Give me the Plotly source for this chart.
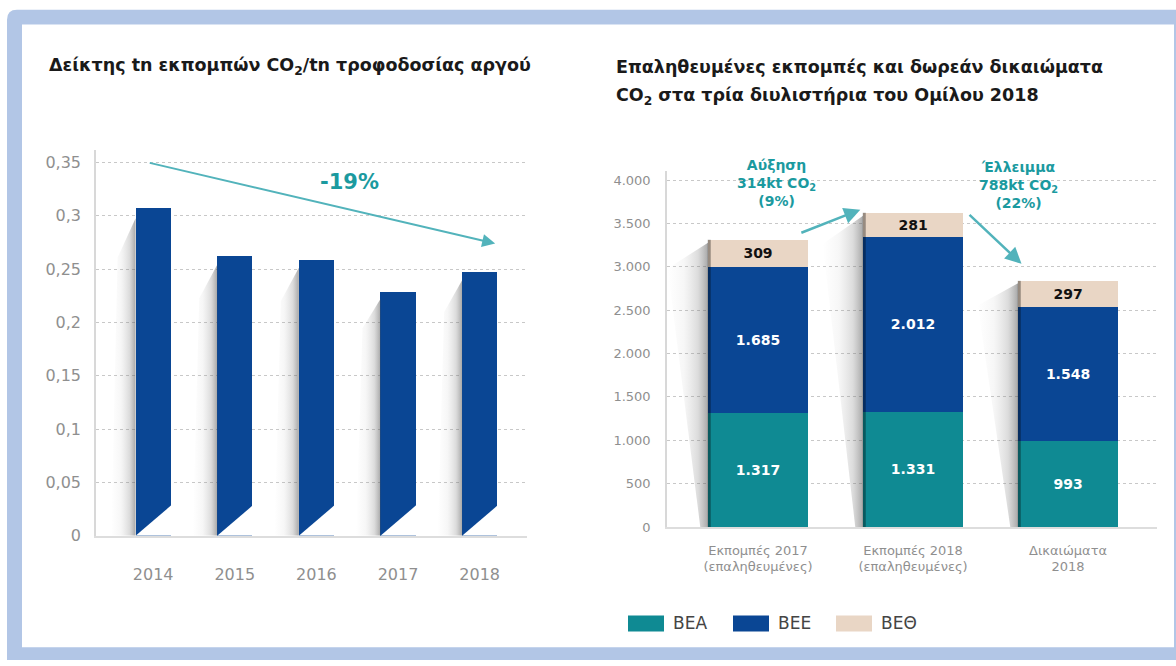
import plotly.graph_objects as go

# ---------------- data ----------------
years = ["2014", "2015", "2016", "2017", "2018"]
index_values = [0.307, 0.262, 0.259, 0.229, 0.247]
left_tickvals = [0, 0.05, 0.1, 0.15, 0.2, 0.25, 0.3, 0.35]
left_ticktext = ["0", "0,05", "0,1", "0,15", "0,2", "0,25", "0,3", "0,35"]

groups = ["Εκπομπές 2017<br>(επαληθευμένες)", "Εκπομπές 2018<br>(επαληθευμένες)", "Δικαιώματα<br>2018"]
bea = [1317, 1331, 993]
bee = [1685, 2012, 1548]
beth = [309, 281, 297]
series_names = ["ΒΕΑ", "ΒΕΕ", "ΒΕΘ"]
right_tickvals = [0, 500, 1000, 1500, 2000, 2500, 3000, 3500, 4000]
right_ticktext = ["0", "500", "1.000", "1.500", "2.000", "2.500", "3.000", "3.500", "4.000"]

W, H = 1176, 666
FONT = "DejaVu Sans"
TEAL = "#0f8a93"
BLUE = "#0a4694"
BEIGE = "#e9d6c5"
ARROW = "#52b3bb"
ATEXT = "#1b9a9f"
GRAY = "#8f8f8f"
LW = 0.43     # left bar width (category units)
RW = 0.645    # right bar width
SHADOW_SCALE = [[0, "rgba(160,160,160,0)"], [0.4, "rgba(150,150,150,0.08)"],
                [0.75, "rgba(120,120,120,0.26)"], [1, "rgba(80,80,80,0.5)"]]


def px(x):
    return x / W


def py(y):
    return 1 - y / H


fig = go.Figure()
xl = list(range(len(years)))
xr = list(range(len(groups)))

# ---- left chart: soft shadows, bars, bottom bevel ----
for i, v in zip(xl, index_values):
    e = i - LW / 2
    fig.add_trace(go.Scatter(x=[e - 0.3, e - 0.22, e, e, e - 0.3], y=[0.0, v * 0.85, v * 0.97, 0, 0.0],
                             mode="lines", line=dict(width=0), fill="toself",
                             fillgradient=dict(type="horizontal", colorscale=SHADOW_SCALE),
                             hoverinfo="skip", showlegend=False, xaxis="x", yaxis="y"))
fig.add_trace(go.Bar(x=xl, y=index_values, marker=dict(color=BLUE, line=dict(width=0)),
                     width=LW, showlegend=False, xaxis="x", yaxis="y"))
for i in xl:
    fig.add_trace(go.Scatter(x=[i - LW / 2, i + LW / 2 + 0.02, i + LW / 2 + 0.02, i - LW / 2],
                             y=[0, 0, 0.0295, 0], mode="lines", line=dict(width=0),
                             fill="toself", fillcolor="white", hoverinfo="skip", showlegend=False,
                             xaxis="x", yaxis="y"))

# ---- right chart ----
totals = [a + b + c for a, b, c in zip(bea, bee, beth)]
for i, t in zip(xr, totals):
    e = i - RW / 2
    fig.add_trace(go.Scatter(x=[e - 0.05, e - 0.26, e, e, e - 0.05], y=[0, t * 0.9, t * 0.99, 0, 0],
                             mode="lines", line=dict(width=0), fill="toself",
                             fillgradient=dict(type="horizontal", colorscale=SHADOW_SCALE),
                             hoverinfo="skip", showlegend=False, xaxis="x2", yaxis="y2"))

colors = [TEAL, BLUE, BEIGE]
textcolors = ["white", "white", "#111111"]
for name, vals, c, tc in zip(series_names, [bea, bee, beth], colors, textcolors):
    fig.add_trace(go.Bar(x=xr, y=vals, name=name, marker=dict(color=c, line=dict(width=0)),
                         width=RW, texttemplate="%{y:,.0f}", textposition="inside",
                         insidetextanchor="middle",
                         textfont=dict(family=FONT, size=14, color=tc, weight="bold"),
                         showlegend=False, xaxis="x2", yaxis="y2"))

for i, t in zip(xr, totals):
    e = i - RW / 2 + 0.008
    fig.add_trace(go.Scatter(x=[e, e], y=[0, t], mode="lines",
                             line=dict(color="rgba(0,0,0,0.35)", width=3),
                             hoverinfo="skip", showlegend=False, xaxis="x2", yaxis="y2"))

shapes = []
# background frame
shapes.append(dict(type="path", xref="paper", yref="paper",
                   path=f"M {px(7)},{py(670)} L {px(7)},{py(20)} Q {px(7)},{py(10)} {px(17)},{py(10)} L {px(1180)},{py(10)} L {px(1180)},{py(670)} Z",
                   fillcolor="#b2c6e6", line=dict(width=0), layer="below"))
shapes.append(dict(type="rect", xref="paper", yref="paper", x0=px(22), x1=px(1174), y0=py(657), y1=py(25),
                   fillcolor="white", line=dict(width=0), layer="below"))

# manual legend
leg_x = [628, 733, 836]
for lx, c in zip(leg_x, colors):
    shapes.append(dict(type="rect", xref="paper", yref="paper", x0=px(lx), x1=px(lx + 36),
                       y0=py(641), y1=py(625), fillcolor=c, line=dict(width=0)))

annotations = []
for lx, name in zip(leg_x, series_names):
    annotations.append(dict(xref="paper", yref="paper", x=px(lx + 43), y=py(633), text=name,
                            showarrow=False, xanchor="left", yanchor="middle",
                            font=dict(family=FONT, size=17, color="#444444")))

# titles
TITLE_FONT = dict(family=FONT, size=17.5, color="#1a1a1a", weight="bold")
annotations.append(dict(xref="paper", yref="paper", x=px(47), y=py(68),
                        text="Δείκτης tn εκπομπών CO<sub>2</sub>/tn τροφοδοσίας αργού",
                        showarrow=False, xanchor="left", yanchor="middle", font=TITLE_FONT))
annotations.append(dict(xref="paper", yref="paper", x=px(614), y=py(68),
                        text="Επαληθευμένες εκπομπές και δωρεάν δικαιώματα",
                        showarrow=False, xanchor="left", yanchor="middle", font=TITLE_FONT))
annotations.append(dict(xref="paper", yref="paper", x=px(614), y=py(98),
                        text="CO<sub>2</sub> στα τρία διυλιστήρια του Ομίλου 2018",
                        showarrow=False, xanchor="left", yanchor="middle", font=TITLE_FONT))

# left arrow + label
annotations.append(dict(xref="x", yref="y", axref="x", ayref="y", x=4.19, y=0.274, ax=-0.06, ay=0.35,
                        text="", showarrow=True, arrowhead=2, arrowsize=1.3, arrowwidth=2, arrowcolor=ARROW))
annotations.append(dict(xref="x", yref="y", x=2.41, y=0.332, text="-19%", showarrow=False,
                        font=dict(family=FONT, size=21, color=ATEXT, weight="bold")))

# right arrows + labels
annotations.append(dict(xref="x2", yref="y2", axref="x2", ayref="y2", x=0.66, y=3659, ax=0.27, ay=3386,
                        text="", showarrow=True, arrowhead=2, arrowsize=1.3, arrowwidth=2.5, arrowcolor=ARROW))
annotations.append(dict(xref="x2", yref="y2", axref="x2", ayref="y2", x=1.70, y=3034, ax=1.355, ay=3614,
                        text="", showarrow=True, arrowhead=2, arrowsize=1.3, arrowwidth=2.5, arrowcolor=ARROW))
annotations.append(dict(xref="x2", yref="y2", x=0.12, y=3966,
                        text="Αύξηση<br>314kt CO<sub>2</sub><br>(9%)", showarrow=False,
                        font=dict(family=FONT, size=14, color=ATEXT, weight="bold")))
annotations.append(dict(xref="x2", yref="y2", x=1.68, y=3943,
                        text="Έλλειμμα<br>788kt CO<sub>2</sub><br>(22%)", showarrow=False,
                        font=dict(family=FONT, size=14, color=ATEXT, weight="bold")))

fig.update_layout(
    width=W, height=H, margin=dict(l=0, r=0, t=0, b=0),
    paper_bgcolor="white", plot_bgcolor="rgba(0,0,0,0)",
    barmode="stack", separators=",.",
    font=dict(family=FONT, color=GRAY),
    shapes=shapes, annotations=annotations,
    xaxis=dict(domain=[px(96), px(527)], range=[-0.7, 4.58], showgrid=False, zeroline=False,
               tickvals=xl, ticktext=years,
               showline=True, linecolor="#dddddd", linewidth=2,
               tickfont=dict(family=FONT, size=16, color=GRAY), ticks="", ticklabelstandoff=23,
               anchor="y"),
    yaxis=dict(domain=[py(544), py(152)], range=[0, 0.362], tickvals=left_tickvals, ticktext=left_ticktext,
               showgrid=True, gridcolor="#c8c8c8", griddash="dot", gridwidth=1,
               zeroline=False, showline=True, linecolor="#d8d8d8", linewidth=1.5,
               tickfont=dict(family=FONT, size=16, color=GRAY), ticks="", ticklabelstandoff=10,
               anchor="x"),
    xaxis2=dict(domain=[px(667), px(1157)], range=[-0.587, 2.574], showgrid=False, zeroline=False,
                tickvals=xr, ticktext=groups,
                showline=True, linecolor="#dddddd", linewidth=2,
                tickfont=dict(family=FONT, size=13, color=GRAY), ticks="", ticklabelstandoff=10,
                anchor="y2"),
    yaxis2=dict(domain=[py(535), py(174)], range=[0, 4100], tickvals=right_tickvals, ticktext=right_ticktext,
                showgrid=True, gridcolor="#c8c8c8", griddash="dot", gridwidth=1,
                zeroline=False, showline=True, linecolor="#d8d8d8", linewidth=1.5,
                tickfont=dict(family=FONT, size=13, color=GRAY), ticks="", ticklabelstandoff=12,
                anchor="x2"),
)

fig.write_html("out.html", config={"displayModeBar": False},
               post_script="document.body.style.margin='0';document.body.style.overflow='hidden';")
